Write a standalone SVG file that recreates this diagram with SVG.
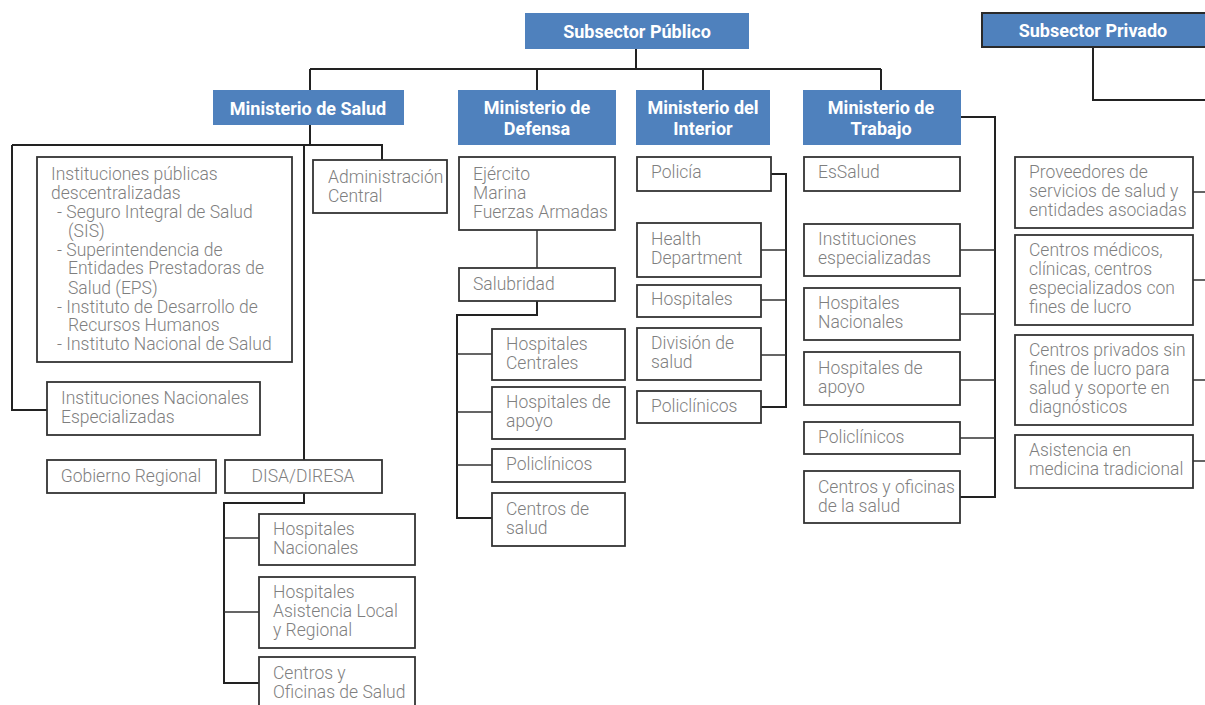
<svg xmlns="http://www.w3.org/2000/svg" width="1205" height="705" viewBox="0 0 1205 705">
<style>
.hdr{fill:#4f81bd}
.hdrb{fill:#4f81bd;stroke:#2a2a2a;stroke-width:2}
.ht{font-family:Roboto,"Liberation Sans",sans-serif;font-weight:700;font-size:18px;fill:#fff;text-anchor:middle}
.box{fill:#fff;stroke:#333;stroke-width:1.8}
.t{font-family:Roboto,"Liberation Sans",sans-serif;font-weight:300;font-size:17.5px;fill:#7f7f7f}
.c{fill:none;stroke:#222;stroke-width:2}
.cn{fill:none;stroke:#333;stroke-width:1.5}
</style>
<rect width="1205" height="705" fill="#fff"/>
<g id="connectors">
<path class="c" d="M636,49 V69 M310,69 H881 M310,69 V90 M537,69 V90 M703,69 V90 M881,69 V90"/>
<path class="c" d="M1093,47 V100 H1205"/>
<path class="c" d="M310,125 V145 M12,145 H382 V160 M12,145 V410 H47 M304,145 V460"/>
<path class="c" d="M304,493 V503 H224 V683 H259"/>
<path class="cn" d="M224,538 H259 M224,612 H259"/>
<path class="cn" d="M537,230 V268"/>
<path class="c" d="M537,301 V315 H457 V518 H492"/>
<path class="cn" d="M457,354 H492 M457,412 H492 M457,465 H492"/>
<path class="c" d="M771,174 H786 V407 H761"/>
<path class="cn" d="M761,250 H786 M761,300 H786 M761,355 H786"/>
<path class="c" d="M961,117 H995 V497 H960"/>
<path class="cn" d="M960,250 H995 M960,314 H995 M960,380 H995 M960,438 H995"/>
<path class="cn" d="M1193,192 H1205 M1193,280 H1205 M1193,380 H1205 M1193,461 H1205"/>
</g>
<g id="subsector-publico"><rect class="hdr" x="525" y="13" width="224" height="36"/><text class="ht" x="637" y="38">Subsector Público</text></g>
<g id="subsector-privado"><rect class="hdrb" x="982" y="13" width="230" height="34"/><text class="ht" x="1093" y="37">Subsector Privado</text></g>
<g id="min-salud"><rect class="hdr" x="213" y="90" width="191" height="35"/><text class="ht" x="308" y="115">Ministerio de Salud</text></g>
<g id="min-defensa"><rect class="hdr" x="458" y="90" width="158" height="55"/><text class="ht" x="537" y="114">Ministerio de</text><text class="ht" x="537" y="135">Defensa</text></g>
<g id="min-interior"><rect class="hdr" x="636" y="90" width="134" height="55"/><text class="ht" x="703" y="114">Ministerio del</text><text class="ht" x="703" y="135">Interior</text></g>
<g id="min-trabajo"><rect class="hdr" x="803" y="90" width="158" height="55"/><text class="ht" x="881" y="114">Ministerio de</text><text class="ht" x="881" y="135">Trabajo</text></g>

<g id="inst-publicas"><rect class="box" x="37" y="157" width="255" height="205"/>
<text class="t" x="51" y="180">Instituciones públicas</text>
<text class="t" x="51" y="199">descentralizadas</text>
<text class="t" x="57" y="218">- Seguro Integral de Salud</text>
<text class="t" x="68" y="237">(SIS)</text>
<text class="t" x="57" y="256">- Superintendencia de</text>
<text class="t" x="68" y="274">Entidades Prestadoras de</text>
<text class="t" x="68" y="294">Salud (EPS)</text>
<text class="t" x="57" y="313">- Instituto de Desarrollo de</text>
<text class="t" x="68" y="331">Recursos Humanos</text>
<text class="t" x="57" y="350">- Instituto Nacional de Salud</text></g>
<g id="admin-central"><rect class="box" x="313" y="160" width="134" height="53"/><text class="t" x="328" y="183">Administración</text><text class="t" x="328" y="202">Central</text></g>
<g id="inst-nacionales"><rect class="box" x="47" y="382" width="213" height="53"/><text class="t" x="61" y="404">Instituciones Nacionales</text><text class="t" x="61" y="423">Especializadas</text></g>
<g id="gob-regional"><rect class="box" x="47" y="460" width="169" height="33"/><text class="t" x="131" y="482" text-anchor="middle">Gobierno Regional</text></g>
<g id="disa"><rect class="box" x="225" y="460" width="157" height="33"/><text class="t" x="303" y="482" text-anchor="middle">DISA/DIRESA</text></g>
<g id="disa-hosp-nac"><rect class="box" x="259" y="514" width="156" height="51"/><text class="t" x="273" y="535">Hospitales</text><text class="t" x="273" y="554">Nacionales</text></g>
<g id="disa-hosp-local"><rect class="box" x="259" y="577" width="156" height="71"/><text class="t" x="273" y="598">Hospitales</text><text class="t" x="273" y="617">Asistencia Local</text><text class="t" x="273" y="636">y Regional</text></g>
<g id="disa-centros"><rect class="box" x="259" y="657" width="156" height="55"/><text class="t" x="273" y="679">Centros y</text><text class="t" x="273" y="698">Oficinas de Salud</text></g>

<g id="ejercito"><rect class="box" x="459" y="157" width="156" height="73"/><text class="t" x="473" y="180">Ejército</text><text class="t" x="473" y="199">Marina</text><text class="t" x="473" y="218">Fuerzas Armadas</text></g>
<g id="salubridad"><rect class="box" x="459" y="268" width="156" height="33"/><text class="t" x="473" y="290">Salubridad</text></g>
<g id="def-hosp-centrales"><rect class="box" x="492" y="329" width="133" height="51"/><text class="t" x="506" y="350">Hospitales</text><text class="t" x="506" y="369">Centrales</text></g>
<g id="def-hosp-apoyo"><rect class="box" x="492" y="387" width="133" height="52"/><text class="t" x="506" y="408">Hospitales de</text><text class="t" x="506" y="427">apoyo</text></g>
<g id="def-policlinicos"><rect class="box" x="492" y="449" width="133" height="33"/><text class="t" x="506" y="470">Policlínicos</text></g>
<g id="def-centros"><rect class="box" x="492" y="493" width="133" height="53"/><text class="t" x="506" y="515">Centros de</text><text class="t" x="506" y="534">salud</text></g>

<g id="policia"><rect class="box" x="637" y="157" width="134" height="34"/><text class="t" x="651" y="178">Policía</text></g>
<g id="health-dept"><rect class="box" x="637" y="223" width="124" height="54"/><text class="t" x="651" y="245">Health</text><text class="t" x="651" y="264">Department</text></g>
<g id="int-hospitales"><rect class="box" x="637" y="285" width="124" height="32"/><text class="t" x="651" y="305">Hospitales</text></g>
<g id="division-salud"><rect class="box" x="637" y="328" width="124" height="52"/><text class="t" x="651" y="349">División de</text><text class="t" x="651" y="368">salud</text></g>
<g id="int-policlinicos"><rect class="box" x="637" y="391" width="124" height="32"/><text class="t" x="651" y="412">Policlínicos</text></g>

<g id="essalud"><rect class="box" x="804" y="157" width="156" height="34"/><text class="t" x="818" y="178">EsSalud</text></g>
<g id="trab-inst-esp"><rect class="box" x="804" y="224" width="156" height="52"/><text class="t" x="818" y="245">Instituciones</text><text class="t" x="818" y="264">especializadas</text></g>
<g id="trab-hosp-nac"><rect class="box" x="804" y="288" width="156" height="52"/><text class="t" x="818" y="309">Hospitales</text><text class="t" x="818" y="328">Nacionales</text></g>
<g id="trab-hosp-apoyo"><rect class="box" x="804" y="352" width="156" height="53"/><text class="t" x="818" y="374">Hospitales de</text><text class="t" x="818" y="393">apoyo</text></g>
<g id="trab-policlinicos"><rect class="box" x="804" y="422" width="156" height="32"/><text class="t" x="818" y="443">Policlínicos</text></g>
<g id="trab-centros"><rect class="box" x="804" y="471" width="156" height="52"/><text class="t" x="818" y="493">Centros y oficinas</text><text class="t" x="818" y="512">de la salud</text></g>

<g id="proveedores"><rect class="box" x="1015" y="157" width="178" height="71"/><text class="t" x="1029" y="178">Proveedores de</text><text class="t" x="1029" y="197">servicios de salud y</text><text class="t" x="1029" y="216">entidades asociadas</text></g>
<g id="centros-medicos"><rect class="box" x="1015" y="235" width="178" height="90"/><text class="t" x="1029" y="256">Centros médicos,</text><text class="t" x="1029" y="275">clínicas, centros</text><text class="t" x="1029" y="294">especializados con</text><text class="t" x="1029" y="313">fines de lucro</text></g>
<g id="centros-privados"><rect class="box" x="1015" y="335" width="178" height="90"/><text class="t" x="1029" y="356">Centros privados sin</text><text class="t" x="1029" y="375">fines de lucro para</text><text class="t" x="1029" y="394">salud y soporte en</text><text class="t" x="1029" y="413">diagnósticos</text></g>
<g id="asistencia"><rect class="box" x="1015" y="435" width="178" height="53"/><text class="t" x="1029" y="456">Asistencia en</text><text class="t" x="1029" y="475">medicina tradicional</text></g>
</svg>
